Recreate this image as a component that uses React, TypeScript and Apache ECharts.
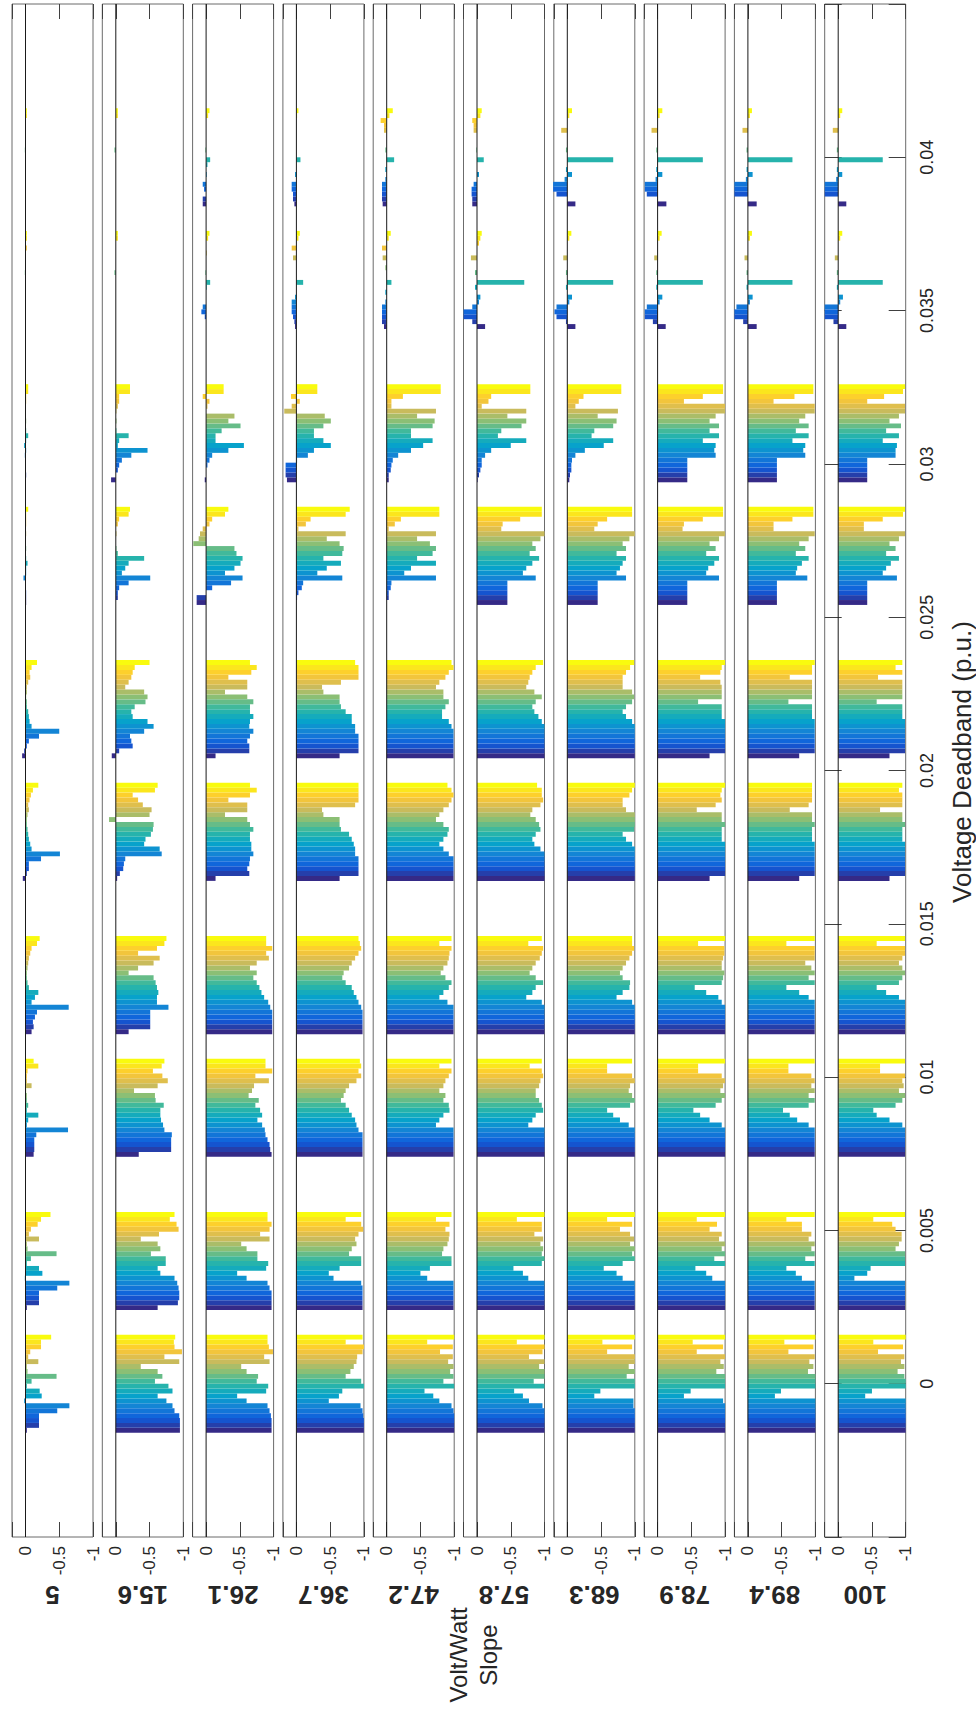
import React, { useEffect, useRef } from 'react';
import * as echarts from 'echarts';

// Voltage deadband positions of the 10 bar groups (p.u.)
const deadbands = [0, 0.004, 0.009, 0.013, 0.018, 0.022, 0.027, 0.031, 0.036, 0.04];
// Volt/Watt slope panel labels
const slopeLabels = ['5', '15.6', '26.1', '36.7', '47.2', '57.8', '68.3', '78.9', '89.4', '100'];
const valueTickLabels = [0, -0.5, -1];
const deadbandTickLabels = [0, 0.005, 0.01, 0.015, 0.02, 0.025, 0.03, 0.035, 0.04];

// each panel: 10 groups (one per deadband), 20 bars per group (series 1..20)
const slope5 = [
  [-0.02, -0.2, -0.2, -0.2, -0.47, -0.65, 0.02, -0.24, -0.21, -0.02, -0.09, -0.46, -0.03, -0.02, -0.19, -0.04, -0.07, -0.23, -0.23, -0.38],
  [-0.02, -0.2, -0.2, -0.2, -0.47, -0.65, 0.01, -0.25, -0.2, -0.02, -0.08, -0.46, -0.03, -0.02, -0.2, -0.05, -0.08, -0.18, -0.23, -0.37],
  [-0.12, -0.13, -0.13, -0.13, -0.16, -0.63, -0.02, -0.04, -0.19, -0.02, -0.04, -0.02, -0.02, -0.01, -0.09, -0.02, -0.02, -0.03, -0.19, -0.12],
  [-0.09, -0.12, -0.11, -0.14, -0.17, -0.64, -0.09, -0.14, -0.19, -0.05, -0.03, -0.02, -0.02, -0.03, -0.04, -0.05, -0.07, -0.09, -0.17, -0.21],
  [0.04, -0.02, -0.05, -0.05, -0.23, -0.51, -0.09, -0.07, -0.05, -0.04, -0.03, -0.02, -0.02, -0.03, -0.05, -0.04, -0.06, -0.08, -0.11, -0.19],
  [0.05, 0.02, -0.02, -0.05, -0.2, -0.5, -0.09, -0.06, -0.05, -0.04, -0.02, -0.02, -0.01, -0.02, -0.02, -0.04, -0.07, -0.06, -0.09, -0.17],
  [-0.01, -0.01, -0.01, 0, 0, 0.03, -0.01, -0.01, -0.03, -0.01, 0, -0.01, 0, 0, -0.01, 0, -0.01, -0.01, -0.01, -0.04],
  [0, -0.01, 0, 0, 0, 0.01, -0.01, 0.02, -0.01, -0.04, -0.01, 0, -0.01, 0, 0, 0, -0.01, -0.01, -0.04, -0.04],
  [0, 0, 0, 0, 0, 0, 0, 0, 0, 0, 0, 0.01, 0, 0, 0, 0, -0.02, 0, -0.02, -0.02],
  [0, 0, 0, 0, 0, 0, 0, 0, 0, 0, 0, 0.01, 0, 0, 0, 0, 0, 0, -0.02, -0.02],
];
const slope15_6 = [
  [-0.95, -0.95, -0.95, -0.94, -0.87, -0.84, -0.75, -0.62, -0.84, -0.78, -0.58, -0.69, -0.62, -0.37, -0.94, -0.72, -0.98, -0.87, -0.86, -0.88],
  [-0.62, -0.92, -0.94, -0.94, -0.93, -0.91, -0.87, -0.66, -0.62, -0.74, -0.74, -0.52, -0.66, -0.62, -0.37, -0.64, -0.93, -0.9, -0.8, -0.87],
  [-0.34, -0.82, -0.82, -0.82, -0.83, -0.72, -0.7, -0.67, -0.66, -0.66, -0.71, -0.59, -0.58, -0.27, -0.62, -0.77, -0.69, -0.55, -0.68, -0.72],
  [-0.19, -0.51, -0.51, -0.51, -0.51, -0.78, -0.61, -0.61, -0.63, -0.61, -0.59, -0.56, -0.19, -0.33, -0.56, -0.65, -0.33, -0.61, -0.72, -0.75],
  [-0.02, -0.06, -0.11, -0.12, -0.14, -0.68, -0.65, -0.42, -0.44, -0.52, -0.55, -0.56, 0.1, -0.5, -0.53, -0.4, -0.33, -0.25, -0.58, -0.62],
  [0.06, -0.05, -0.25, -0.23, -0.21, -0.42, -0.56, -0.47, -0.25, -0.23, -0.28, -0.44, -0.47, -0.42, -0.14, -0.19, -0.23, -0.25, -0.28, -0.5],
  [0, -0.03, -0.03, -0.05, -0.19, -0.51, -0.09, -0.14, -0.19, -0.42, -0.03, -0.01, 0, 0, -0.01, 0, -0.03, -0.05, -0.19, -0.21],
  [0.07, 0, -0.03, -0.05, -0.09, -0.23, -0.47, -0.03, -0.05, -0.19, -0.01, 0, -0.01, 0, -0.01, -0.03, -0.05, -0.05, -0.21, -0.21],
  [0, 0, 0, 0, 0, 0, 0, 0, 0, 0, 0, 0.02, 0, 0, 0, 0, 0, 0, -0.03, -0.03],
  [0, 0, 0, 0, 0, 0, 0, 0, 0, 0, 0, 0.02, 0, 0, 0, 0, 0, 0, -0.03, -0.03],
];
const slope26_1 = [
  [-0.97, -0.97, -0.97, -0.96, -0.94, -0.91, -0.6, -0.46, -0.89, -0.92, -0.75, -0.77, -0.6, -0.52, -0.94, -0.86, -0.99, -0.93, -0.91, -0.91],
  [-0.97, -0.97, -0.97, -0.97, -0.94, -0.91, -0.6, -0.46, -0.89, -0.92, -0.76, -0.76, -0.6, -0.52, -0.94, -0.8, -0.94, -0.97, -0.91, -0.91],
  [-0.97, -0.95, -0.94, -0.91, -0.88, -0.87, -0.83, -0.76, -0.83, -0.8, -0.73, -0.78, -0.63, -0.68, -0.71, -0.93, -0.73, -0.98, -0.88, -0.88],
  [-0.98, -0.98, -0.98, -0.98, -0.98, -0.95, -0.92, -0.86, -0.82, -0.79, -0.75, -0.7, -0.75, -0.65, -0.75, -0.93, -0.89, -0.98, -0.89, -0.89],
  [-0.14, -0.64, -0.61, -0.64, -0.65, -0.7, -0.67, -0.67, -0.65, -0.65, -0.7, -0.65, -0.61, -0.28, -0.61, -0.61, -0.33, -0.65, -0.75, -0.65],
  [-0.14, -0.64, -0.64, -0.61, -0.65, -0.7, -0.64, -0.65, -0.7, -0.65, -0.65, -0.7, -0.61, -0.28, -0.61, -0.61, -0.33, -0.67, -0.75, -0.65],
  [0.14, 0.14, 0, -0.09, -0.37, -0.54, -0.28, -0.42, -0.51, -0.54, -0.45, -0.42, 0.19, 0.11, 0.09, 0.05, -0.05, -0.09, -0.28, -0.33],
  [0.02, 0, 0, -0.02, -0.05, -0.09, -0.33, -0.56, -0.14, -0.14, -0.23, -0.51, -0.33, -0.42, 0, -0.02, -0.05, 0.05, -0.26, -0.26],
  [0, 0, 0.02, 0.07, 0.05, 0, 0, 0, -0.01, -0.06, 0, 0.01, 0, 0, 0, -0.01, 0, 0, -0.03, -0.05],
  [0.05, 0.05, 0, 0.03, 0.05, 0, -0.01, 0, -0.02, -0.06, 0, 0.01, 0, 0, 0, 0, 0, 0, -0.03, -0.05],
];
const slope36_7 = [
  [-1, -1, -1, -0.99, -0.98, -0.95, -0.48, -0.63, -0.68, -1, -0.96, -0.73, -0.8, -0.85, -0.89, -0.9, -0.98, -1, -0.73, -0.98],
  [-0.98, -0.98, -0.98, -0.98, -0.98, -0.96, -0.55, -0.48, -0.64, -0.96, -0.96, -0.78, -0.82, -0.89, -0.87, -0.92, -0.99, -0.96, -0.73, -0.96],
  [-0.98, -0.98, -0.98, -0.98, -0.98, -0.92, -0.89, -0.87, -0.82, -0.78, -0.73, -0.66, -0.7, -0.73, -0.78, -0.89, -0.96, -0.92, -0.96, -0.94],
  [-0.98, -0.98, -0.98, -0.98, -0.98, -0.96, -0.92, -0.89, -0.85, -0.82, -0.73, -0.68, -0.7, -0.78, -0.82, -0.87, -0.92, -0.96, -0.94, -0.92],
  [-0.64, -0.92, -0.92, -0.92, -0.92, -0.87, -0.87, -0.85, -0.82, -0.78, -0.66, -0.64, -0.64, -0.4, -0.38, -0.87, -0.92, -0.92, -0.92, -0.92],
  [-0.64, -0.92, -0.92, -0.92, -0.92, -0.87, -0.87, -0.82, -0.82, -0.73, -0.66, -0.64, -0.64, -0.4, -0.38, -0.66, -0.92, -0.92, -0.92, -0.87],
  [0, -0.01, -0.03, -0.08, -0.1, -0.68, -0.31, -0.45, -0.66, -0.4, -0.68, -0.7, -0.64, -0.45, -0.73, -0.03, -0.14, -0.21, -0.73, -0.79],
  [0.14, 0.16, 0.16, 0.16, -0.01, -0.17, -0.26, -0.51, -0.4, -0.26, -0.26, -0.4, -0.51, -0.42, 0.18, 0.07, -0.05, 0.08, -0.31, -0.31],
  [0.02, 0.03, 0.05, 0.07, 0.07, 0.07, 0.02, 0, 0, -0.1, 0, 0, 0, 0, 0.05, 0, 0.07, 0, -0.03, -0.05],
  [0.03, 0.05, 0.05, 0.07, 0.07, 0, 0.02, 0, 0, -0.06, 0, 0, 0, 0, 0, 0, 0, 0, -0.01, -0.03],
];
const slope47_2 = [
  [-1, -1, -1, -1, -0.99, -0.96, -0.78, -0.69, -0.56, -1, -0.84, -0.99, -0.94, -0.99, -0.91, -0.98, -0.79, -0.98, -0.6, -1],
  [-0.99, -0.99, -0.99, -0.99, -0.99, -0.99, -0.6, -0.5, -0.64, -0.96, -0.96, -0.82, -0.84, -0.9, -0.92, -0.93, -0.87, -0.93, -0.73, -0.96],
  [-0.99, -0.99, -0.99, -0.99, -0.99, -0.99, -0.73, -0.78, -0.84, -0.93, -0.92, -0.84, -0.87, -0.78, -0.84, -0.87, -0.92, -0.96, -0.78, -0.96],
  [-0.99, -0.99, -0.99, -0.99, -0.99, -0.99, -0.9, -0.78, -0.84, -0.92, -0.96, -0.87, -0.8, -0.84, -0.9, -0.92, -0.93, -0.96, -0.78, -0.96],
  [-0.99, -0.99, -0.99, -0.99, -0.99, -0.92, -0.84, -0.78, -0.84, -0.9, -0.92, -0.84, -0.73, -0.78, -0.84, -0.92, -0.96, -0.99, -0.96, -0.9],
  [-0.99, -0.99, -0.99, -0.99, -0.99, -0.99, -0.96, -0.92, -0.82, -0.82, -0.87, -0.92, -0.84, -0.84, -0.73, -0.78, -0.87, -0.92, -0.99, -0.96],
  [0, -0.03, -0.03, -0.06, -0.07, -0.73, -0.26, -0.36, -0.73, -0.45, -0.68, -0.73, -0.64, -0.45, -0.73, -0.03, -0.12, -0.21, -0.78, -0.78],
  [-0.03, -0.03, -0.06, -0.07, -0.09, -0.17, -0.36, -0.54, -0.68, -0.36, -0.36, -0.68, -0.71, -0.45, -0.73, -0.07, -0.07, -0.24, -0.8, -0.8],
  [0.04, 0.07, 0.07, 0.07, 0.07, 0.02, 0, 0.02, 0, -0.07, 0, 0, 0.02, 0, 0.06, 0, 0.07, 0, -0.03, -0.06],
  [0.06, 0.07, 0.07, 0.07, 0.07, 0.02, 0, 0.02, 0, -0.11, 0, 0.02, 0, 0, 0, 0.04, 0.04, 0.09, -0.04, -0.09],
];
const slope57_8 = [
  [-1, -1, -1, -1, -1, -0.97, -0.77, -0.68, -0.55, -1, -0.84, -1, -1, -0.92, -1, -0.77, -0.97, -1, -0.59, -1],
  [-1, -1, -1, -1, -1, -1, -0.76, -0.68, -0.54, -0.96, -1, -0.96, -0.98, -0.94, -0.98, -0.85, -0.96, -0.96, -0.59, -1],
  [-1, -1, -1, -1, -1, -1, -0.76, -0.82, -0.87, -0.98, -0.96, -0.92, -0.87, -0.87, -0.92, -0.94, -0.98, -0.96, -0.78, -0.96],
  [-1, -1, -1, -1, -1, -1, -0.96, -0.73, -0.82, -0.87, -0.98, -0.87, -0.78, -0.82, -0.87, -0.93, -0.96, -0.98, -0.76, -0.96],
  [-1, -1, -1, -1, -1, -1, -0.94, -0.85, -0.82, -0.87, -0.94, -0.92, -0.87, -0.79, -0.82, -0.94, -0.98, -0.96, -0.96, -0.89],
  [-1, -1, -1, -1, -1, -1, -1, -0.96, -0.91, -0.85, -0.82, -0.87, -0.96, -0.85, -0.73, -0.76, -0.78, -0.82, -0.87, -0.98],
  [-0.45, -0.45, -0.45, -0.45, -0.45, -0.87, -0.68, -0.73, -0.82, -0.92, -0.78, -0.87, -0.82, -0.94, -1, -0.36, -0.38, -0.64, -0.96, -0.96],
  [-0.01, -0.03, -0.05, -0.07, -0.07, -0.12, -0.21, -0.5, -0.73, -0.31, -0.36, -0.66, -0.73, -0.45, -0.73, -0.07, -0.17, -0.21, -0.79, -0.79],
  [-0.12, 0.07, 0.2, 0.2, 0.07, -0.03, -0.05, 0, 0.03, -0.7, 0, 0.03, 0, 0, 0.09, 0, 0, -0.03, -0.05, -0.07],
  [0.07, 0.07, 0.08, 0.08, 0.05, 0, -0.03, 0, 0, -0.1, 0, 0.01, 0, 0, 0, 0.05, 0.05, 0.07, -0.05, -0.07],
];
const slope68_3 = [
  [-1, -1, -1, -1, -1, -0.98, -0.98, -0.4, -0.49, -1, -1, -0.88, -1, -0.91, -1, -1, -0.59, -0.96, -0.52, -1],
  [-1, -1, -1, -1, -1, -1, -0.82, -0.73, -0.54, -0.82, -1, -0.96, -1, -0.93, -0.99, -0.93, -0.78, -0.96, -0.59, -1],
  [-1, -1, -1, -1, -1, -1, -0.91, -0.78, -0.68, -0.59, -0.93, -1, -0.96, -0.91, -0.93, -1, -0.96, -0.59, -0.59, -0.96],
  [-1, -1, -1, -1, -1, -1, -0.96, -0.73, -0.82, -0.92, -0.93, -0.82, -0.78, -0.82, -0.87, -0.92, -0.96, -0.99, -0.96, -0.96],
  [-1, -1, -1, -1, -1, -1, -1, -0.96, -0.87, -0.82, -0.99, -1, -1, -1, -0.87, -0.82, -0.82, -0.92, -0.96, -1],
  [-1, -1, -1, -1, -1, -1, -1, -0.96, -0.87, -0.82, -0.87, -0.96, -0.99, -0.96, -0.82, -0.82, -0.82, -0.87, -0.93, -0.99],
  [-0.45, -0.45, -0.45, -0.45, -0.45, -0.87, -0.73, -0.78, -0.82, -0.87, -0.73, -0.87, -0.82, -0.92, -1, -0.4, -0.45, -0.59, -0.96, -0.96],
  [-0.03, -0.04, -0.06, -0.06, -0.07, -0.12, -0.26, -0.54, -0.68, -0.36, -0.4, -0.68, -0.73, -0.45, -0.75, -0.12, -0.17, -0.24, -0.8, -0.8],
  [-0.12, 0.02, 0.16, 0.19, 0.16, -0.03, -0.07, 0, 0.02, -0.68, 0, 0.02, 0, 0, 0.06, 0, 0, 0, -0.03, -0.06],
  [-0.12, 0, 0.16, 0.21, 0.21, 0.04, -0.07, 0.02, 0, -0.68, 0, 0.02, 0, 0, 0, 0.09, 0, 0, -0.03, -0.07],
];
const slope78_9 = [
  [-1, -1, -1, -1, -1, -1, -0.97, -0.39, -0.49, -1, -1, -1, -0.87, -0.98, -0.93, -1, -0.58, -0.97, -0.52, -1],
  [-1, -1, -1, -1, -1, -1, -0.81, -0.72, -0.56, -1, -0.84, -1, -0.95, -1, -0.91, -0.95, -0.77, -0.88, -0.58, -1],
  [-1, -1, -1, -1, -1, -1, -0.95, -0.77, -0.63, -0.53, -0.86, -0.95, -1, -0.93, -0.97, -1, -0.95, -0.6, -0.6, -1],
  [-1, -1, -1, -1, -1, -1, -0.95, -0.9, -0.72, -0.55, -0.95, -0.97, -0.99, -0.95, -0.95, -0.97, -0.99, -0.99, -0.6, -1],
  [-0.77, -1, -1, -1, -1, -1, -1, -1, -0.95, -0.95, -0.95, -1, -0.95, -0.95, -0.58, -0.86, -0.95, -0.93, -0.95, -1],
  [-0.77, -1, -1, -1, -1, -1, -1, -1, -0.95, -0.95, -0.95, -0.6, -0.95, -0.95, -0.95, -0.93, -0.63, -0.93, -0.95, -1],
  [-0.44, -0.44, -0.44, -0.44, -0.44, -0.91, -0.72, -0.75, -0.84, -0.91, -0.72, -0.86, -0.77, -0.91, -1, -0.37, -0.39, -0.67, -0.97, -0.97],
  [-0.44, -0.44, -0.44, -0.44, -0.44, -0.86, -0.84, -0.86, -0.67, -0.91, -0.77, -0.91, -0.77, -0.86, -1, -1, -0.39, -0.67, -0.97, -0.97],
  [-0.12, 0.07, 0.19, 0.19, 0.16, -0.03, -0.07, 0, 0.02, -0.67, 0, 0.02, 0, 0, 0.05, 0, 0, 0, -0.03, -0.06],
  [-0.13, 0, 0.16, 0.19, 0.19, 0.03, -0.07, 0.02, 0, -0.67, 0, 0.02, 0, 0, 0, 0.09, 0, 0, -0.03, -0.07],
];
const slope89_4 = [
  [-1, -1, -1, -1, -1, -1, -1, -0.4, -0.49, -1, -1, -1, -0.89, -0.97, -0.91, -0.99, -0.6, -0.97, -0.54, -1],
  [-0.99, -0.99, -0.99, -0.99, -0.99, -0.99, -0.8, -0.71, -0.57, -0.99, -0.85, -0.99, -0.94, -0.99, -0.9, -0.94, -0.8, -0.8, -0.57, -0.99],
  [-0.99, -0.99, -0.99, -0.99, -0.99, -0.99, -0.9, -0.73, -0.62, -0.52, -0.9, -0.99, -0.9, -0.99, -0.94, -0.99, -0.94, -0.6, -0.6, -0.99],
  [-0.99, -0.99, -0.99, -0.99, -0.99, -0.99, -0.99, -0.9, -0.76, -0.57, -0.99, -0.9, -0.99, -0.94, -0.85, -0.99, -0.99, -0.99, -0.57, -0.99],
  [-0.76, -0.99, -0.99, -0.99, -0.99, -0.99, -0.99, -0.99, -0.95, -0.95, -0.95, -0.99, -0.95, -0.95, -0.62, -0.9, -0.95, -0.95, -0.95, -0.95],
  [-0.76, -0.99, -0.99, -0.99, -0.99, -0.99, -0.99, -0.99, -0.95, -0.95, -0.95, -0.6, -0.95, -0.95, -0.95, -0.95, -0.62, -0.95, -0.95, -0.99],
  [-0.43, -0.43, -0.43, -0.43, -0.43, -0.88, -0.71, -0.73, -0.8, -0.9, -0.71, -0.85, -0.76, -0.9, -0.99, -0.38, -0.38, -0.66, -0.97, -0.97],
  [-0.43, -0.43, -0.43, -0.43, -0.43, -0.85, -0.82, -0.85, -0.66, -0.9, -0.71, -0.9, -0.76, -0.85, -0.99, -0.99, -0.38, -0.69, -0.97, -0.97],
  [-0.13, 0.07, 0.2, 0.2, 0.17, -0.03, -0.07, 0, 0.02, -0.66, 0, 0.02, 0, 0, 0.05, 0, 0, 0, -0.03, -0.06],
  [-0.13, 0, 0.2, 0.2, 0.2, 0.03, -0.07, 0.02, 0, -0.66, 0, 0.02, 0, 0, 0, 0.08, 0, 0, -0.03, -0.06],
];
const slope100 = [
  [-1, -1, -1, -1, -1, -1, -1, -0.4, -0.5, -1, -1, -0.98, -0.88, -0.98, -0.93, -0.98, -0.59, -0.96, -0.52, -1],
  [-0.99, -0.99, -0.99, -0.99, -0.99, -0.99, -0.24, -0.43, -0.48, -0.99, -0.99, -0.99, -0.85, -0.9, -0.94, -0.94, -0.85, -0.8, -0.52, -0.99],
  [-0.99, -0.99, -0.99, -0.99, -0.99, -0.99, -0.95, -0.76, -0.57, -0.52, -0.85, -0.95, -0.99, -0.9, -0.97, -0.95, -0.99, -0.62, -0.62, -0.99],
  [-0.99, -0.99, -0.99, -0.99, -0.99, -0.99, -0.99, -0.9, -0.71, -0.57, -0.9, -0.95, -0.99, -0.95, -0.9, -0.95, -0.99, -0.99, -0.57, -0.99],
  [-0.76, -0.99, -0.99, -0.99, -0.99, -0.99, -0.99, -0.99, -0.95, -0.95, -0.95, -0.99, -0.95, -0.95, -0.62, -0.95, -0.95, -0.95, -0.9, -0.95],
  [-0.76, -0.99, -0.99, -0.99, -0.99, -0.99, -0.99, -0.99, -0.95, -0.95, -0.95, -0.57, -0.95, -0.95, -0.95, -0.95, -0.59, -0.95, -0.85, -0.95],
  [-0.43, -0.43, -0.43, -0.43, -0.43, -0.87, -0.66, -0.71, -0.78, -0.9, -0.71, -0.85, -0.76, -0.9, -0.99, -0.38, -0.38, -0.66, -0.96, -0.99],
  [-0.43, -0.43, -0.43, -0.43, -0.43, -0.85, -0.85, -0.87, -0.66, -0.9, -0.71, -0.93, -0.76, -0.9, -0.99, -0.99, -0.43, -0.68, -0.96, -0.99],
  [-0.12, 0.07, 0.2, 0.2, 0.2, -0.03, -0.07, 0, 0.02, -0.66, 0, 0.02, 0, 0, 0.05, 0, 0, 0, -0.03, -0.06],
  [-0.12, 0, 0.2, 0.2, 0.2, 0.03, -0.06, 0.02, 0, -0.66, 0, 0.02, 0, 0, 0, 0.08, 0, 0, -0.03, -0.06],
];

const panels = [slope5, slope15_6, slope26_1, slope36_7, slope47_2, slope57_8, slope68_3, slope78_9, slope89_4, slope100];

const N_SERIES = 20;
const GROUP_WIDTH = 0.8 * 0.004; // MATLAB grouped-bar width (0.8 of min spacing)
const SLOT = GROUP_WIDTH / N_SERIES;

const PARULA = ['#352a87', '#0f5cdd', '#1481d6', '#06a4ca', '#2eb7a4', '#87bf77', '#d1bb59', '#fec832', '#f9fb0e'];
function hexToRgb(h: string) {
  return [parseInt(h.slice(1, 3), 16), parseInt(h.slice(3, 5), 16), parseInt(h.slice(5, 7), 16)];
}
function parula(n: number) {
  const out: string[] = [];
  for (let k = 0; k < n; k++) {
    const t = (k / (n - 1)) * (PARULA.length - 1);
    const i = Math.min(Math.floor(t), PARULA.length - 2);
    const f = t - i;
    const a = hexToRgb(PARULA[i]);
    const b = hexToRgb(PARULA[i + 1]);
    const c = a.map((v, j) => Math.round(v + (b[j] - v) * f));
    out.push(`rgb(${c[0]},${c[1]},${c[2]})`);
  }
  return out;
}
const COLORS = parula(N_SERIES);

const FONT = 'Liberation Sans, Arial, Helvetica, sans-serif';
const TEXT_COLOR = '#262626';
const AXIS_COLOR = '#404040';

export default function App() {
  const ref = useRef<HTMLDivElement>(null);
  useEffect(() => {
    if (!ref.current) return;
    const chart = echarts.init(ref.current, undefined, { renderer: 'svg' });

    const grids: any[] = [];
    const xAxes: any[] = [];
    const yAxes: any[] = [];
    const series: any[] = [];
    const graphics: any[] = [];

    const PLOT_TOP = 4;
    const PLOT_H = 1533;
    const PANEL_W = 81;
    const PANEL_STEP = 90.3;

    panels.forEach((panel, i) => {
      const left = 12 + i * PANEL_STEP;
      grids.push({
        left, top: PLOT_TOP, width: PANEL_W, height: PLOT_H,
        show: true, borderColor: '#6b6b6b', borderWidth: 1, backgroundColor: 'transparent',
      });
      const xBottomIdx = xAxes.length;
      const tickCommon = { show: true, inside: true, length: 15, lineStyle: { color: AXIS_COLOR, width: 1 } };
      xAxes.push({
        gridIndex: i, type: 'value', min: -1, max: 0.2, interval: 0.5, inverse: true, position: 'bottom',
        axisLine: { show: false, onZero: false }, splitLine: { show: false }, axisTick: tickCommon,
        axisLabel: {
          show: true, rotate: 90, margin: 9, fontSize: 17, color: TEXT_COLOR, fontFamily: FONT,
          formatter: (v: number) => {
            const r = Math.round(v * 100) / 100;
            return valueTickLabels.indexOf(r) >= 0 && Math.abs(v - r) < 1e-9 ? String(r === 0 ? 0 : r) : '';
          },
        },
      });
      xAxes.push({
        gridIndex: i, type: 'value', min: -1, max: 0.2, interval: 0.5, inverse: true, position: 'top',
        axisLine: { show: false, onZero: false }, splitLine: { show: false }, axisTick: tickCommon, axisLabel: { show: false },
      });
      const isLast = i === panels.length - 1;
      const yIdx = yAxes.length;
      const dbFormatter = (v: number) => {
        const r = Math.round(v * 10000) / 10000;
        return deadbandTickLabels.some((t) => Math.abs(t - r) < 1e-9) ? String(r) : '';
      };
      yAxes.push({
        gridIndex: i, type: 'value', min: -0.005, max: 0.045, interval: 0.005, position: 'right',
        show: isLast,
        axisLine: { show: false, onZero: false }, splitLine: { show: false },
        axisTick: { show: true, inside: true, length: 17, lineStyle: { color: AXIS_COLOR, width: 1 } },
        axisLabel: { show: true, rotate: 90, margin: 12, fontSize: 18, color: TEXT_COLOR, fontFamily: FONT, formatter: dbFormatter },
      });
      if (isLast) {
        yAxes.push({
          gridIndex: i, type: 'value', min: -0.005, max: 0.045, interval: 0.005, position: 'left',
          axisLine: { show: false, onZero: false }, splitLine: { show: false },
          axisTick: { show: true, inside: true, length: 17, lineStyle: { color: AXIS_COLOR, width: 1 } },
          axisLabel: { show: false },
        });
      }

      const data: number[][] = [];
      panel.forEach((group, g) => {
        group.forEach((v, k) => data.push([v, deadbands[g], k]));
      });

      series.push({
        type: 'custom',
        xAxisIndex: xBottomIdx,
        yAxisIndex: yIdx,
        encode: { x: 0, y: 1 },
        data,
        z: 2,
        silent: true,
        renderItem: (params: any, api: any) => {
          const v = api.value(0);
          const d = api.value(1);
          const k = api.value(2);
          const c = d + (k - (N_SERIES - 1) / 2) * SLOT;
          const p0 = api.coord([0, c - SLOT / 2]);
          const p1 = api.coord([v, c + SLOT / 2]);
          const x = Math.min(p0[0], p1[0]);
          const y = Math.min(p0[1], p1[1]);
          const w = Math.abs(p1[0] - p0[0]);
          const h = Math.abs(p1[1] - p0[1]);
          if (w < 0.01) return null;
          return {
            type: 'rect',
            shape: { x, y, width: w, height: h },
            style: { fill: COLORS[k], stroke: null },
          };
        },
      });

      series.push({
        type: 'line',
        xAxisIndex: xBottomIdx,
        yAxisIndex: yIdx,
        data: [[0, -0.005], [0, 0.045]],
        symbol: 'none',
        showSymbol: false,
        silent: true,
        z: 5,
        lineStyle: { color: '#1a1a1a', width: 1 },
      });

      graphics.push({
        type: 'text',
        x: left + PANEL_W / 2,
        y: 1595,
        rotation: Math.PI,
        style: {
          text: slopeLabels[i], fontSize: 26, fontWeight: 'bold', fontFamily: FONT,
          fill: TEXT_COLOR, align: 'center', verticalAlign: 'middle',
        },
      });
    });

    graphics.push({
      type: 'text',
      x: 473,
      y: 1655,
      rotation: Math.PI / 2,
      style: {
        text: 'Volt/Watt\nSlope', fontSize: 24, lineHeight: 30, fontFamily: FONT,
        fill: TEXT_COLOR, align: 'center', verticalAlign: 'middle',
      },
    });
    graphics.push({
      type: 'text',
      x: 962,
      y: 762,
      rotation: Math.PI / 2,
      style: {
        text: 'Voltage Deadband (p.u.)', fontSize: 26, fontFamily: FONT,
        fill: TEXT_COLOR, align: 'center', verticalAlign: 'middle',
      },
    });

    chart.setOption({
      animation: false,
      backgroundColor: '#ffffff',
      grid: grids,
      xAxis: xAxes,
      yAxis: yAxes,
      series,
      graphic: graphics,
    });

    return () => chart.dispose();
  }, []);

  return <div ref={ref} style={{ position: 'absolute', left: 0, top: 0, width: 976, height: 1711 }} />;
}
